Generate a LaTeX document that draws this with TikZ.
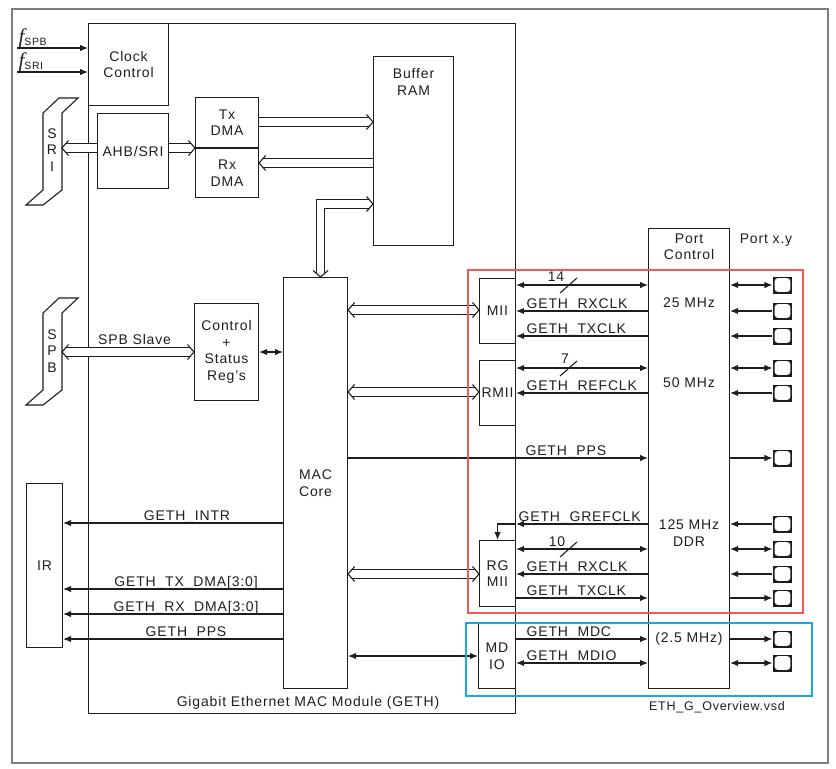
\documentclass[tikz,border=0pt]{standalone}
\usepackage{fontspec}
\setmainfont[LetterSpace=6]{Liberation Sans}
\newfontfamily\fserif{Liberation Serif}
\usetikzlibrary{arrows.meta,positioning,calc}
\definecolor{framegray}{HTML}{7F7F7F}
\definecolor{ethred}{HTML}{F0585A}
\definecolor{ethblue}{HTML}{1BA6EA}
\definecolor{ink}{HTML}{1E1E1E}
\newcommand\clkname[1]{{\fserif\itshape\fontsize{21}{21}\selectfont f}\raisebox{-2pt}{\fontsize{10.5}{10.5}\selectfont #1}}
\tikzset{pics/bushead/.style={code={\draw[line width=1.1pt,line join=miter] (-6.5,-7.5) -- (0,0) -- (-6.5,7.5);}}}

\begin{document}
\begin{tikzpicture}[x=1pt,y=-1pt,>={Latex[length=8pt,width=6.5pt]},
  font=\fontsize{14}{16.5}\selectfont,line width=1.1pt,ink,
  blk/.style={draw,inner sep=0pt,align=center,anchor=north west},
  bus/.style={double=white,double distance=7.5pt},
  lbl/.style={anchor=base west,inner sep=0pt,xshift=10pt,yshift=3pt},
  portpad/.style={fill=ink,minimum width=19pt,minimum height=17pt,inner sep=0pt,
    path picture={\fill[white,rounded corners=3pt]
      ([shift={(1.7pt,1.7pt)}]path picture bounding box.south west) rectangle
      ([shift={(-1.7pt,-1.7pt)}]path picture bounding box.north east);}}]
  \useasboundingbox (0,0) rectangle (836,769);
  \draw[framegray,line width=1.3pt] (12,9) rectangle (828,763);

  % module and inner blocks
  \node[blk,minimum width=427,minimum height=690] (geth) at (88,23) {};
  \node[anchor=base] (gethtxt) at (308,706) {Gigabit Ethernet MAC Module (GETH)};
  \node[blk,minimum width=80,minimum height=82] (clk) at (88,23) {Clock\\Control};
  \node[blk,minimum width=71,minimum height=75] (ahb) at (97,113) {AHB/SRI};
  \node[blk,minimum width=63,minimum height=50] (tx) at (195,97) {Tx\\DMA};
  \node[blk,minimum width=63,minimum height=49,below=0pt of tx.south west,anchor=north west] (rx) {Rx\\DMA};
  \node[blk,minimum width=80,minimum height=189] (ram) at (373,56) {};
  \node[below=12pt of ram.north,inner sep=0pt,align=center] (ramtxt) {Buffer\\RAM};
  \node[blk,minimum width=64,minimum height=97] (csr) at (194,303) {Control\\+\\Status\\Reg's};
  \node[blk,minimum width=64,minimum height=411] (mac) at (283,277) {MAC\\Core};
  \node[blk,minimum width=36,minimum height=164] (ir) at (26,483) {IR};

  % interfaces
  \node[blk,minimum width=36,minimum height=65] (mii) at (479,278) {MII};
  \node[blk,minimum width=36,minimum height=65] (rmii) at (479,360) {RMII};
  \node[blk,minimum width=36,minimum height=66] (rgmii) at (479,540) {RG\\MII};
  \node[blk,minimum width=37,minimum height=65] (mdio) at (478,623) {MD\\IO};
  \node[blk,minimum width=81,minimum height=460] (pc) at (648,228) {};
  \node[below=5pt of pc.north,inner sep=0pt,align=center] (pctxt) {Port\\Control};
  \node (fq25) at (689,303) {25 MHz};
  \node (fq50) at (689,383) {50 MHz};
  \node[align=center] (fq125) at (689,533) {125 MHz\\DDR};
  \node (fq2) at (689,639) {(2.5 MHz)};
  \node (portxy) at (766,240) {Port x.y};
  \node[font=\fontsize{12.5}{14}\selectfont] (vsd) at (717,707) {ETH\_G\_Overview.vsd};

  % system buses
  \foreach \dy in {0,200}
    \draw[fill=white,shift={(0,\dy)}] (59,98) -- (78,98) -- (62,113) -- (62,190)
      -- (43,205) -- (26,205) -- (43,190) -- (43,113) -- cycle;
  \node[align=center,inner sep=0pt] (sri) at (52,150) {S\\R\\I};
  \node[align=center,inner sep=0pt] (spb) at (52,351) {S\\P\\B};
  \coordinate (sriport) at (62,148);
  \coordinate (spbport) at (62,352);
  \draw[bus,shorten >=3.7pt] (ahb.west |- sriport) -- (sriport);
  \pic[rotate=180] at (sriport) {bushead};
  \draw[bus,shorten >=3.7pt] (ahb.east |- tx.south) -- (tx.south west);
  \pic at (tx.south west) {bushead};
  \draw[bus,shorten <=3.7pt,shorten >=3.7pt] (spbport) -- (csr.west |- spbport)
    node[above=3pt,pos=0.55] (spbtxt) {SPB Slave};
  \pic[rotate=180] at (spbport) {bushead};
  \pic at (csr.west |- spbport) {bushead};
  \draw[<->] (csr.east |- spbport) -- (mac.west |- spbport);
  \draw[bus,shorten >=3.7pt] (tx.east |- 0,122) -- (ram.west |- 0,122);
  \pic at (ram.west |- 0,122) {bushead};
  \draw[bus,shorten >=3.7pt] (ram.west |- 0,163) -- (rx.east |- 0,163);
  \pic[rotate=180] at (rx.east |- 0,163) {bushead};
  \draw[bus,shorten <=3.7pt,shorten >=3.7pt] ([xshift=5pt]mac.north) |- (ram.west |- 0,204);
  \pic[rotate=-90] at ([xshift=5pt]mac.north) {bushead};
  \pic at (ram.west |- 0,204) {bushead};

  % clocks
  \coordinate (fspb) at (17,48);
  \coordinate (fsri) at (17,72);
  \draw[->] (fspb) -- (clk.west |- fspb);
  \draw[->] (fsri) -- (clk.west |- fsri);
  \node[anchor=base west,inner sep=0pt] (fspbtxt) at (18,43) {\clkname{SPB}};
  \node[anchor=base west,inner sep=0pt] (fsritxt) at (18,67) {\clkname{SRI}};

  % interrupt lines
  \draw[->] (mac.west |- 0,523) -- (ir.east |- 0,523);
  \draw[->] (mac.west |- 0,589) -- (ir.east |- 0,589);
  \draw[->] (mac.west |- 0,614) -- (ir.east |- 0,614);
  \draw[->] (mac.west |- 0,639) -- (ir.east |- 0,639);
  \node[anchor=base] (lintr) at (187,520) {GETH\_INTR};
  \node[anchor=base] (ltxdma) at (186,586) {GETH\_TX\_DMA[3:0]};
  \node[anchor=base] (lrxdma) at (186,611) {GETH\_RX\_DMA[3:0]};
  \node[anchor=base] (lppsir) at (186,636) {GETH\_PPS};

  % MAC to interfaces
  \foreach \ifc/\y in {mii/310,rmii/392,rgmii/574} {
    \draw[bus,shorten <=3.7pt,shorten >=3.7pt] (mac.east |- 0,\y) -- (\ifc.west |- 0,\y);
    \pic[rotate=180] at (mac.east |- 0,\y) {bushead};
    \pic at (\ifc.west |- 0,\y) {bushead};
  }
  \draw[<->] (mac.east |- 0,656) -- (mdio.west |- 0,656);

  % MII
  \draw[<->] (mii.east |- 0,285) -- (pc.west |- 0,285);
  \draw (560,293) -- ++(17,-15);
  \node (w14) at (556,277) {14};
  \draw[<-] (mii.east |- 0,311) -- (pc.west |- 0,311) node[lbl,pos=0] {GETH\_RXCLK};
  \draw[<-] (mii.east |- 0,336) -- (pc.west |- 0,336) node[lbl,pos=0] {GETH\_TXCLK};
  % RMII
  \draw[<->] (rmii.east |- 0,368) -- (pc.west |- 0,368);
  \draw (560,376) -- ++(17,-15);
  \node (w7) at (565,359) {7};
  \draw[<-] (rmii.east |- 0,393) -- (pc.west |- 0,393) node[lbl,pos=0] {GETH\_REFCLK};
  % PPS
  \draw[->] (mac.east |- 0,458) -- (pc.west |- 0,458);
  \node[anchor=base west,inner sep=0pt] (lpps) at (525,455) {GETH\_PPS};
  % RGMII
  \draw[<-] (rgmii.east |- 0,524) -- (pc.west |- 0,524) node[lbl,pos=0,xshift=-8pt] {GETH\_GREFCLK};
  \draw[->] (rgmii.east |- 0,524) -| (rgmii.north);
  \draw[<->] (rgmii.east |- 0,549) -- (pc.west |- 0,549);
  \draw (560,557) -- ++(17,-15);
  \node (w10) at (557,542) {10};
  \draw[<-] (rgmii.east |- 0,574) -- (pc.west |- 0,574) node[lbl,pos=0] {GETH\_RXCLK};
  \draw[->] (rgmii.east |- 0,598) -- (pc.west |- 0,598) node[lbl,pos=0] {GETH\_TXCLK};
  % MDIO
  \draw[->] (mdio.east |- 0,639) -- (pc.west |- 0,639) node[lbl,pos=0] {GETH\_MDC};
  \draw[<->] (mdio.east |- 0,663) -- (pc.west |- 0,663) node[lbl,pos=0] {GETH\_MDIO};

  % port pads
  \foreach \n/\y in {1/285,2/311,3/336,4/368,5/393,6/458,7/524,8/549,9/574,10/598,11/639,12/663}
    \node[portpad] (pad\n) at (782.5,\y) {};
  \foreach \n in {1,4,8,12} \draw[<->] (pc.east |- pad\n) -- (pad\n.west);
  \foreach \n in {2,3,5,7,9} \draw[<-] (pc.east |- pad\n) -- (pad\n.west);
  \foreach \n in {6,10,11} \draw[->] (pc.east |- pad\n) -- (pad\n.west);

  % highlight frames
  \draw[ethred,line width=2.2pt] (468,270) rectangle (803,613);
  \draw[ethblue,line width=2.2pt] (466,623) rectangle (812,696);
\end{tikzpicture}
\end{document}
